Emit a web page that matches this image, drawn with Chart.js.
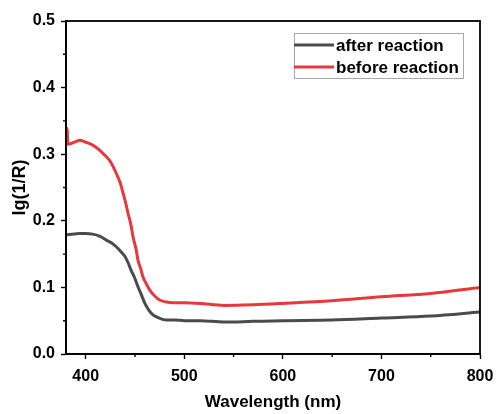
<!DOCTYPE html>
<html>
<head>
<meta charset="utf-8">
<script src="https://cdn.jsdelivr.net/npm/chart.js@4"></script>
<style>
  html, body { margin: 0; padding: 0; background: #fff; }
  #wrap { width: 496px; height: 414px; }
</style>
</head>
<body>
<div id="wrap"><canvas id="myChart" width="496" height="414"></canvas></div>
<script>
// wavelength (nm) and lg(1/R)
const afterX = [380, 381, 388, 394, 400, 407, 414, 421, 426, 431, 436, 440, 443, 446, 450, 453, 457, 460, 464, 468, 473, 478, 482, 490, 500, 516, 540, 570, 600, 650, 700, 750, 800];
const afterY = [0.178, 0.179, 0.180, 0.181, 0.181, 0.180, 0.177, 0.171, 0.167, 0.161, 0.153, 0.146, 0.137, 0.126, 0.113, 0.101, 0.087, 0.076, 0.066, 0.059, 0.055, 0.052, 0.051, 0.051, 0.050, 0.050, 0.048, 0.049, 0.050, 0.051, 0.054, 0.057, 0.063];

const beforeX = [380, 381, 382, 385, 390, 394, 400, 404, 409, 414, 419, 424, 428, 431, 435, 438, 441, 443, 446, 448, 451, 453, 456, 458, 462, 465, 470, 475, 482, 489, 500, 516, 540, 570, 600, 650, 700, 750, 800];
const beforeY = [0.330, 0.339, 0.315, 0.316, 0.319, 0.321, 0.318, 0.316, 0.312, 0.306, 0.299, 0.291, 0.281, 0.271, 0.257, 0.241, 0.224, 0.211, 0.193, 0.176, 0.158, 0.141, 0.127, 0.116, 0.104, 0.096, 0.087, 0.081, 0.078, 0.077, 0.077, 0.076, 0.073, 0.074, 0.076, 0.080, 0.086, 0.091, 0.100];

const seriesLabels = ['after reaction', 'before reaction'];
const xTicks = [400, 500, 600, 700, 800];
const yTicks = [0.0, 0.1, 0.2, 0.3, 0.4, 0.5];

const FONT = '"Liberation Sans", Arial, sans-serif';

function pts(xs, ys) {
  return xs.map((x, i) => ({ x: x, y: ys[i] }));
}

// frame box, minor ticks and the boxed legend
const framePlugin = {
  id: 'frame',
  afterDraw(chart) {
    const { ctx, chartArea: a, scales } = chart;
    ctx.save();
    ctx.strokeStyle = '#000';
    ctx.lineWidth = 1.8;
    ctx.strokeRect(a.left, a.top, a.right - a.left, a.bottom - a.top);

    // minor ticks
    ctx.lineWidth = 1.4;
    ctx.beginPath();
    for (let i = 0; i < xTicks.length - 1; i++) {
      const px = scales.x.getPixelForValue((xTicks[i] + xTicks[i + 1]) / 2);
      ctx.moveTo(px, a.bottom);
      ctx.lineTo(px, a.bottom + 3);
    }
    for (let i = 0; i < yTicks.length - 1; i++) {
      const py = scales.y.getPixelForValue((yTicks[i] + yTicks[i + 1]) / 2);
      ctx.moveTo(a.left, py);
      ctx.lineTo(a.left - 3, py);
    }
    ctx.stroke();

    // legend
    const bx = 294, by = 33, bw = 169, bh = 45;
    ctx.strokeStyle = '#a8a8a8';
    ctx.lineWidth = 1;
    ctx.strokeRect(bx + 0.5, by + 0.5, bw, bh);
    ctx.font = 'bold 17px ' + FONT;
    ctx.textBaseline = 'middle';
    chart.data.datasets.forEach((ds, i) => {
      const ly = by + 12 + i * 22;
      ctx.strokeStyle = ds.borderColor;
      ctx.lineWidth = 3;
      ctx.beginPath();
      ctx.moveTo(bx, ly);
      ctx.lineTo(bx + 40, ly);
      ctx.stroke();
      ctx.fillStyle = '#000';
      ctx.fillText(ds.label, bx + 42, ly + 1);
    });
    ctx.restore();
  }
};

const ctx = document.getElementById('myChart');

new Chart(ctx, {
  type: 'line',
  data: {
    datasets: [{
      label: seriesLabels[0],
      data: pts(afterX, afterY),
      borderColor: '#4b4b4b',
      borderWidth: 3,
      pointRadius: 0,
      cubicInterpolationMode: 'monotone',
      fill: false
    }, {
      label: seriesLabels[1],
      data: pts(beforeX, beforeY),
      borderColor: '#e8383d',
      borderWidth: 3,
      pointRadius: 0,
      cubicInterpolationMode: 'monotone',
      fill: false
    }]
  },
  options: {
    responsive: false,
    animation: false,
    layout: { padding: { top: 21, right: 16, left: 0, bottom: 0 } },
    plugins: {
      legend: { display: false },
      tooltip: { enabled: false }
    },
    scales: {
      x: {
        type: 'linear',
        min: 380,
        max: 800,
        afterBuildTicks: s => { s.ticks = xTicks.map(v => ({ value: v })); },
        afterFit: s => { s.height = 60; s.paddingLeft = 0; s.paddingRight = 0; },
        border: { display: true, color: '#000', width: 1.8 },
        grid: { drawOnChartArea: false, tickLength: 5, tickColor: '#000', tickWidth: 1.4 },
        ticks: {
          color: '#000',
          padding: 8,
          maxRotation: 0,
          font: { family: FONT, size: 16, weight: 'bold' }
        },
        title: {
          display: true,
          text: 'Wavelength (nm)',
          color: '#000',
          padding: { top: 0, bottom: 1 },
          font: { family: FONT, size: 17, weight: 'bold' }
        }
      },
      y: {
        min: 0,
        max: 0.5,
        afterBuildTicks: s => { s.ticks = yTicks.map(v => ({ value: v })); },
        afterFit: s => { s.width = 66; s.paddingTop = 0; s.paddingBottom = 0; },
        border: { display: true, color: '#000', width: 1.8 },
        grid: { drawOnChartArea: false, tickLength: 5, tickColor: '#000', tickWidth: 1.4 },
        ticks: {
          color: '#000',
          padding: 6,
          callback: v => v.toFixed(1),
          font: { family: FONT, size: 16, weight: 'bold' }
        },
        title: {
          display: true,
          text: 'lg(1/R)',
          color: '#000',
          padding: { top: 9, bottom: 0 },
          font: { family: FONT, size: 18, weight: 'bold' }
        }
      }
    }
  },
  plugins: [framePlugin]
});
</script>
</body>
</html>
